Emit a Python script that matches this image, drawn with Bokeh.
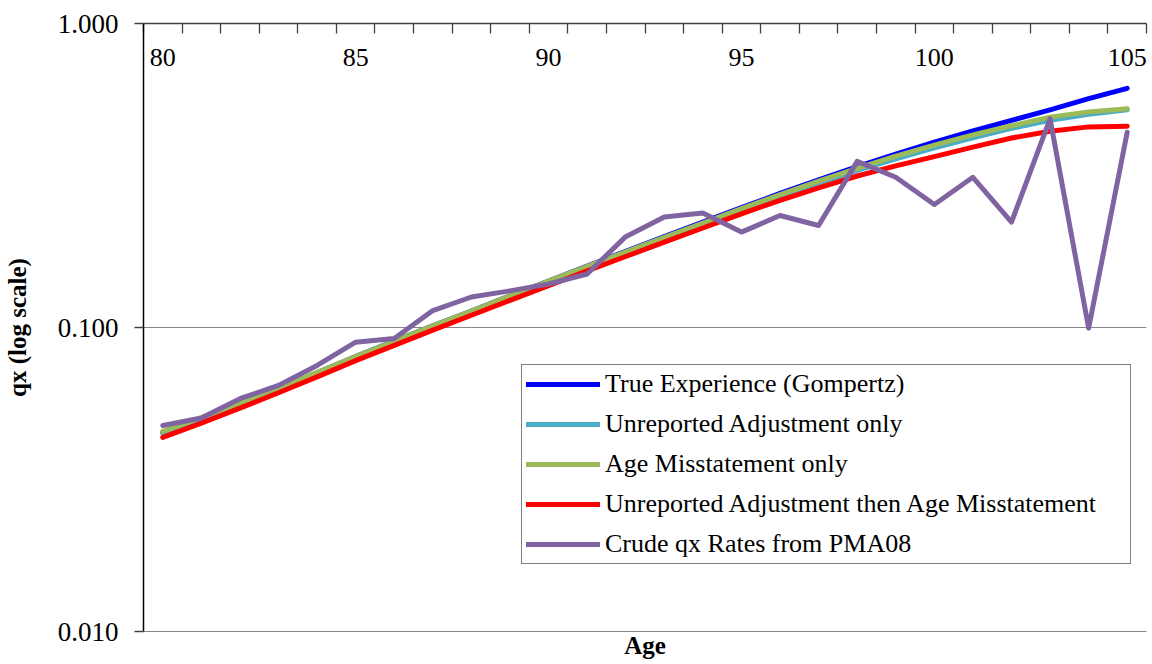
from bokeh.plotting import figure
from bokeh.models import (Range1d, FixedTicker, PrintfTickFormatter, LinearAxis,
                          Legend, LegendItem)
from bokeh.embed import file_html
from bokeh.resources import INLINE

ages = list(range(80, 106))
true_gompertz = [0.0452, 0.0502, 0.0562, 0.0630, 0.0710, 0.0802, 0.0902, 0.1012, 0.1132, 0.1270,
                 0.1422, 0.1592, 0.1780, 0.1990, 0.2220, 0.2480, 0.2760, 0.3060, 0.3380, 0.3720,
                 0.4070, 0.4430, 0.4800, 0.5200, 0.5660, 0.6120]
unreported_only = [0.0448, 0.0498, 0.0557, 0.0625, 0.0703, 0.0793, 0.0892, 0.1000, 0.1120, 0.1256,
                   0.1405, 0.1572, 0.1755, 0.1958, 0.2180, 0.2430, 0.2700, 0.2985, 0.3290, 0.3590,
                   0.3900, 0.4210, 0.4520, 0.4800, 0.5030, 0.5200]
age_misstatement_only = [0.0455, 0.0505, 0.0565, 0.0633, 0.0712, 0.0803, 0.0903, 0.1013, 0.1133, 0.1270,
                         0.1420, 0.1588, 0.1773, 0.1978, 0.2205, 0.2460, 0.2735, 0.3030, 0.3340, 0.3660,
                         0.3980, 0.4300, 0.4610, 0.4920, 0.5120, 0.5240]
unreported_then_age = [0.0435, 0.0485, 0.0543, 0.0610, 0.0688, 0.0778, 0.0873, 0.0980, 0.1097, 0.1228,
                       0.1372, 0.1535, 0.1712, 0.1908, 0.2125, 0.2365, 0.2620, 0.2880, 0.3150, 0.3400,
                       0.3650, 0.3920, 0.4200, 0.4420, 0.4570, 0.4590]
crude_pma08 = [0.0476, 0.0504, 0.0583, 0.0645, 0.0750, 0.0895, 0.0920, 0.1137, 0.1260, 0.1320,
               0.1390, 0.1500, 0.1990, 0.2310, 0.2380, 0.2060, 0.2335, 0.2165, 0.3520, 0.3120,
               0.2540, 0.3120, 0.2220, 0.4860, 0.0995, 0.4390]

series_names = ["True Experience (Gompertz)", "Unreported Adjustment only", "Age Misstatement only",
                "Unreported Adjustment then Age Misstatement", "Crude qx Rates from PMA08"]
series_values = [true_gompertz, unreported_only, age_misstatement_only, unreported_then_age, crude_pma08]
series_colors = ["#0000FF", "#4BACC6", "#9BBB59", "#FF0000", "#8064A2"]

x_label_ticks = [80, 85, 90, 95, 100, 105]
y_ticks = [0.01, 0.1, 1.0]

FONT = "Liberation Serif"

p = figure(width=1152, height=664, y_axis_type="log",
           x_range=Range1d(ages[0] - 0.5, ages[-1] + 0.5), y_range=Range1d(0.01, 1.0),
           output_backend="svg", toolbar_location=None, x_axis_location="above",
           min_border_left=142, min_border_right=6, min_border_top=23, min_border_bottom=33)
p.outline_line_color = None
p.background_fill_color = "white"
p.border_fill_color = "white"

# top axis (category style: ticks between ages, labels inside plot)
xa = p.xaxis[0]
xa.ticker = FixedTicker(ticks=x_label_ticks, minor_ticks=[a - 0.5 for a in ages] + [ages[-1] + 0.5])
xa.major_tick_in = 0
xa.major_tick_out = 0
xa.minor_tick_in = 10
xa.minor_tick_out = 0
xa.minor_tick_line_color = "#404040"
xa.minor_tick_line_width = 1.3
xa.axis_line_color = "#404040"
xa.axis_line_width = 1.3
xa.major_label_standoff = -42
xa.major_label_text_font = FONT
xa.major_label_text_font_size = "26px"
xa.major_label_text_color = "black"

# bottom axis only for the "Age" title
xb = LinearAxis(ticker=FixedTicker(ticks=[]), axis_label="Age")
xb.major_tick_out = 0
xb.major_tick_in = 0
xb.minor_tick_out = 0
xb.major_label_standoff = 0
xb.axis_line_color = "#868686"
xb.axis_label_standoff = 0
xb.axis_label_text_font = FONT
xb.axis_label_text_font_size = "25px"
xb.axis_label_text_font_style = "bold"
xb.axis_label_text_color = "black"
p.add_layout(xb, "below")

ya = p.yaxis[0]
ya.ticker = FixedTicker(ticks=y_ticks, minor_ticks=[])
ya.formatter = PrintfTickFormatter(format="%.3f")
ya.major_tick_out = 9
ya.major_tick_in = 0
ya.major_tick_line_color = "#404040"
ya.major_tick_line_width = 1.3
ya.axis_line_color = "black"
ya.axis_line_width = 1.5
ya.major_label_standoff = 16
ya.major_label_text_font = FONT
ya.major_label_text_font_size = "27px"
ya.major_label_text_color = "black"
ya.axis_label = "qx (log scale)"
ya.axis_label_standoff = 24
ya.axis_label_text_font = FONT
ya.axis_label_text_font_size = "25px"
ya.axis_label_text_font_style = "bold"
ya.axis_label_text_color = "black"

p.xgrid.visible = False
p.ygrid.ticker = FixedTicker(ticks=y_ticks, minor_ticks=[])
p.ygrid.grid_line_color = "#868686"
p.ygrid.grid_line_width = 1

items = []
for name, vals, col in zip(series_names, series_values, series_colors):
    r = p.line(ages, vals, line_color=col, line_width=5, line_join="round", line_cap="round")
    items.append(LegendItem(label=name, renderers=[r]))

legend = Legend(items=items, location=(378, 67), margin=0, padding=4, spacing=10,
                glyph_width=74, glyph_height=20, label_height=20, label_standoff=5,
                label_width=521, label_text_font=FONT, label_text_font_size="26px",
                label_text_color="black", border_line_color="black", border_line_width=1.3,
                background_fill_color="white", background_fill_alpha=1.0)
p.add_layout(legend)

open("out.html", "w").write(file_html(p, INLINE))
